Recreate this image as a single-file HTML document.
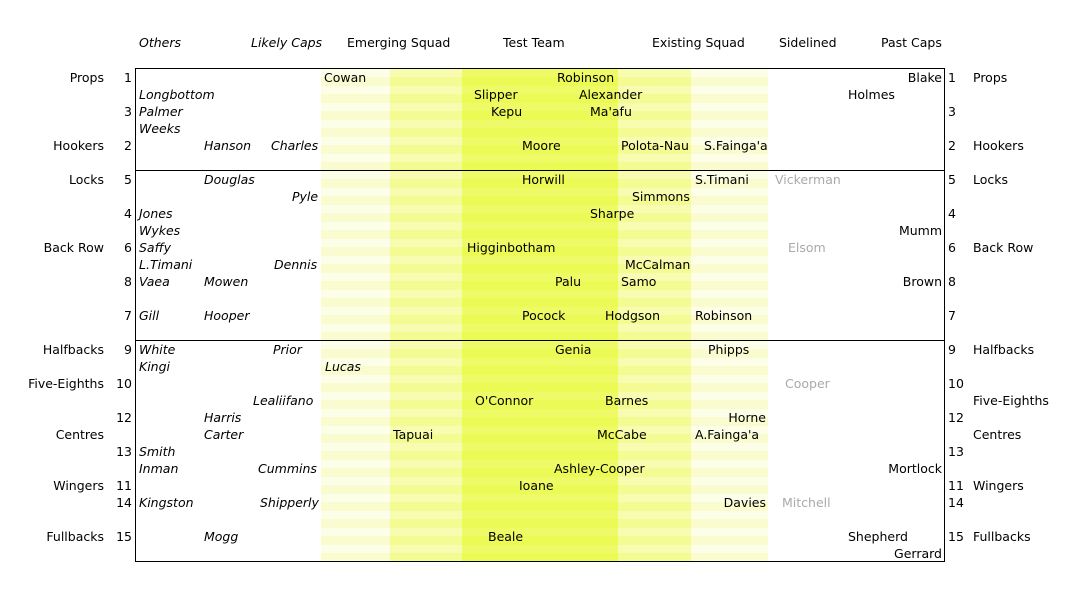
<!DOCTYPE html>
<html><head><meta charset="utf-8"><style>
body{margin:0;width:1079px;height:611px;background:#fff;position:relative;overflow:hidden;font-family:"DejaVu Sans","Liberation Sans",sans-serif;font-size:12.5px;color:#000}
div.t{position:absolute;line-height:16px;white-space:nowrap;margin-top:1px}
.i{font-style:italic}
.g{color:#aaa}
.r{text-align:right}
.band{position:absolute;top:69px;height:492px}
.L{background:repeating-linear-gradient(180deg,#fdfee8 0,#fdfee8 8px,#fafcd0 8px,#fafcd0 17px)}
.M{background:repeating-linear-gradient(180deg,#f8fcb0 0,#f8fcb0 8px,#f4fb92 8px,#f4fb92 17px)}
.B{background:repeating-linear-gradient(180deg,#effb66 0,#effb66 8px,#ecfa55 8px,#ecfa55 17px)}
.box{position:absolute;left:135px;top:68px;width:808px;height:492px;border:1px solid #000}
.hl{position:absolute;left:135px;width:810px;height:1px;background:#000}
</style></head><body>
<div class="band L" style="left:321px;width:69px"></div>
<div class="band M" style="left:390px;width:72px"></div>
<div class="band B" style="left:462px;width:156px"></div>
<div class="band M" style="left:618px;width:73px"></div>
<div class="band L" style="left:691px;width:77px"></div>
<div class="box"></div>
<div class="hl" style="top:170px"></div>
<div class="hl" style="top:340px"></div>

<div class="t i" style="left:139px;top:34px">Others</div>
<div class="t i" style="left:251px;top:34px">Likely Caps</div>
<div class="t" style="left:347px;top:34px">Emerging Squad</div>
<div class="t" style="left:503px;top:34px">Test Team</div>
<div class="t" style="left:652px;top:34px">Existing Squad</div>
<div class="t" style="left:779px;top:34px">Sidelined</div>
<div class="t" style="left:881px;top:34px">Past Caps</div>

<div class="t r" style="right:975px;top:69px">Props</div>
<div class="t r" style="right:975px;top:137px">Hookers</div>
<div class="t r" style="right:975px;top:171px">Locks</div>
<div class="t r" style="right:975px;top:239px">Back Row</div>
<div class="t r" style="right:975px;top:341px">Halfbacks</div>
<div class="t r" style="right:975px;top:375px">Five-Eighths</div>
<div class="t r" style="right:975px;top:426px">Centres</div>
<div class="t r" style="right:975px;top:477px">Wingers</div>
<div class="t r" style="right:975px;top:528px">Fullbacks</div>
<div class="t r" style="right:947px;top:69px">1</div>
<div class="t r" style="right:947px;top:103px">3</div>
<div class="t r" style="right:947px;top:137px">2</div>
<div class="t r" style="right:947px;top:171px">5</div>
<div class="t r" style="right:947px;top:205px">4</div>
<div class="t r" style="right:947px;top:239px">6</div>
<div class="t r" style="right:947px;top:273px">8</div>
<div class="t r" style="right:947px;top:307px">7</div>
<div class="t r" style="right:947px;top:341px">9</div>
<div class="t r" style="right:947px;top:375px">10</div>
<div class="t r" style="right:947px;top:409px">12</div>
<div class="t r" style="right:947px;top:443px">13</div>
<div class="t r" style="right:947px;top:477px">11</div>
<div class="t r" style="right:947px;top:494px">14</div>
<div class="t r" style="right:947px;top:528px">15</div>

<div class="t" style="left:948px;top:69px">1</div>
<div class="t" style="left:948px;top:103px">3</div>
<div class="t" style="left:948px;top:137px">2</div>
<div class="t" style="left:948px;top:171px">5</div>
<div class="t" style="left:948px;top:205px">4</div>
<div class="t" style="left:948px;top:239px">6</div>
<div class="t" style="left:948px;top:273px">8</div>
<div class="t" style="left:948px;top:307px">7</div>
<div class="t" style="left:948px;top:341px">9</div>
<div class="t" style="left:948px;top:375px">10</div>
<div class="t" style="left:948px;top:409px">12</div>
<div class="t" style="left:948px;top:443px">13</div>
<div class="t" style="left:948px;top:477px">11</div>
<div class="t" style="left:948px;top:494px">14</div>
<div class="t" style="left:948px;top:528px">15</div>
<div class="t" style="left:973px;top:69px">Props</div>
<div class="t" style="left:973px;top:137px">Hookers</div>
<div class="t" style="left:973px;top:171px">Locks</div>
<div class="t" style="left:973px;top:239px">Back Row</div>
<div class="t" style="left:973px;top:341px">Halfbacks</div>
<div class="t" style="left:973px;top:392px">Five-Eighths</div>
<div class="t" style="left:973px;top:426px">Centres</div>
<div class="t" style="left:973px;top:477px">Wingers</div>
<div class="t" style="left:973px;top:528px">Fullbacks</div>

<div class="t" style="left:324px;top:69px">Cowan</div>
<div class="t" style="left:557px;top:69px">Robinson</div>
<div class="t r" style="right:137px;top:69px">Blake</div>
<div class="t i" style="left:139px;top:86px">Longbottom</div>
<div class="t" style="left:474px;top:86px">Slipper</div>
<div class="t" style="left:579px;top:86px">Alexander</div>
<div class="t" style="left:848px;top:86px">Holmes</div>
<div class="t i" style="left:139px;top:103px">Palmer</div>
<div class="t" style="left:491px;top:103px">Kepu</div>
<div class="t" style="left:590px;top:103px">Ma'afu</div>
<div class="t i" style="left:139px;top:120px">Weeks</div>
<div class="t i" style="left:204px;top:137px">Hanson</div>
<div class="t i" style="left:271px;top:137px">Charles</div>
<div class="t" style="left:522px;top:137px">Moore</div>
<div class="t" style="left:621px;top:137px">Polota-Nau</div>
<div class="t" style="left:704px;top:137px">S.Fainga'a</div>
<div class="t i" style="left:204px;top:171px">Douglas</div>
<div class="t" style="left:522px;top:171px">Horwill</div>
<div class="t" style="left:695px;top:171px">S.Timani</div>
<div class="t g" style="left:775px;top:171px">Vickerman</div>
<div class="t i" style="left:292px;top:188px">Pyle</div>
<div class="t" style="left:632px;top:188px">Simmons</div>
<div class="t i" style="left:139px;top:205px">Jones</div>
<div class="t" style="left:590px;top:205px">Sharpe</div>
<div class="t i" style="left:139px;top:222px">Wykes</div>
<div class="t r" style="right:137px;top:222px">Mumm</div>
<div class="t i" style="left:139px;top:239px">Saffy</div>
<div class="t" style="left:467px;top:239px">Higginbotham</div>
<div class="t g" style="left:788px;top:239px">Elsom</div>
<div class="t i" style="left:139px;top:256px">L.Timani</div>
<div class="t i" style="left:274px;top:256px">Dennis</div>
<div class="t" style="left:625px;top:256px">McCalman</div>
<div class="t i" style="left:139px;top:273px">Vaea</div>
<div class="t i" style="left:204px;top:273px">Mowen</div>
<div class="t" style="left:555px;top:273px">Palu</div>
<div class="t" style="left:621px;top:273px">Samo</div>
<div class="t r" style="right:137px;top:273px">Brown</div>
<div class="t i" style="left:139px;top:307px">Gill</div>
<div class="t i" style="left:204px;top:307px">Hooper</div>
<div class="t" style="left:522px;top:307px">Pocock</div>
<div class="t" style="left:605px;top:307px">Hodgson</div>
<div class="t" style="left:695px;top:307px">Robinson</div>
<div class="t i" style="left:139px;top:341px">White</div>
<div class="t i" style="left:273px;top:341px">Prior</div>
<div class="t" style="left:555px;top:341px">Genia</div>
<div class="t" style="left:708px;top:341px">Phipps</div>
<div class="t i" style="left:139px;top:358px">Kingi</div>
<div class="t i" style="left:325px;top:358px">Lucas</div>
<div class="t g" style="left:785px;top:375px">Cooper</div>
<div class="t i" style="left:253px;top:392px">Lealiifano</div>
<div class="t" style="left:475px;top:392px">O'Connor</div>
<div class="t" style="left:605px;top:392px">Barnes</div>
<div class="t i" style="left:204px;top:409px">Harris</div>
<div class="t r" style="right:313px;top:409px">Horne</div>
<div class="t i" style="left:204px;top:426px">Carter</div>
<div class="t" style="left:393px;top:426px">Tapuai</div>
<div class="t" style="left:597px;top:426px">McCabe</div>
<div class="t" style="left:695px;top:426px">A.Fainga'a</div>
<div class="t i" style="left:139px;top:443px">Smith</div>
<div class="t i" style="left:139px;top:460px">Inman</div>
<div class="t i" style="left:258px;top:460px">Cummins</div>
<div class="t" style="left:554px;top:460px">Ashley-Cooper</div>
<div class="t r" style="right:137px;top:460px">Mortlock</div>
<div class="t" style="left:519px;top:477px">Ioane</div>
<div class="t i" style="left:139px;top:494px">Kingston</div>
<div class="t i" style="left:260px;top:494px">Shipperly</div>
<div class="t r" style="right:313px;top:494px">Davies</div>
<div class="t g" style="left:782px;top:494px">Mitchell</div>
<div class="t i" style="left:204px;top:528px">Mogg</div>
<div class="t" style="left:488px;top:528px">Beale</div>
<div class="t" style="left:848px;top:528px">Shepherd</div>
<div class="t r" style="right:137px;top:545px">Gerrard</div>
</body></html>
